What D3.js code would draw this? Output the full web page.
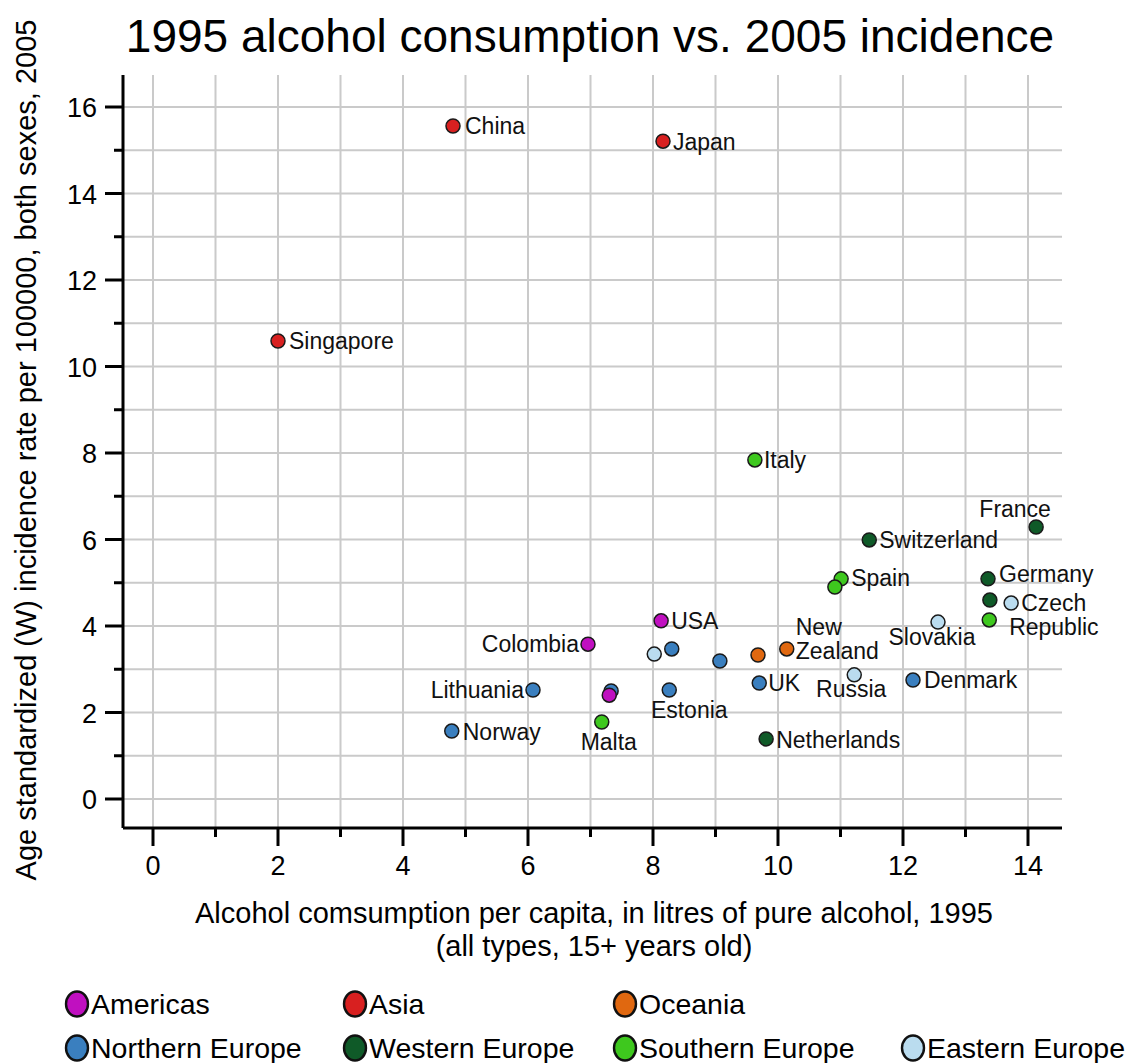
<!DOCTYPE html>
<html><head><meta charset="utf-8">
<script src="https://cdn.jsdelivr.net/npm/d3@7"></script>
<style>body{margin:0;background:#fff}svg{display:block;font-family:"Liberation Sans",Arial,sans-serif}</style>
</head><body><svg id="c" width="1131" height="1063"></svg>
<script>
const countries = ["China","Japan","Singapore","Italy","France","Switzerland","Spain","Spain2","Germany","WEurope2","Czech","SEurope2","Slovakia","USA","Colombia","EEurope2","NEurope2","NEurope3","Oceania2","NewZealand","Russia","Denmark","UK","Lithuania","NEurope4","Americas2","Estonia","Norway","Malta","Netherlands"];
const regions = ["Asia","Asia","Asia","Southern Europe","Western Europe","Western Europe","Southern Europe","Southern Europe","Western Europe","Western Europe","Eastern Europe","Southern Europe","Eastern Europe","Americas","Americas","Eastern Europe","Northern Europe","Northern Europe","Oceania","Oceania","Eastern Europe","Northern Europe","Northern Europe","Northern Europe","Northern Europe","Americas","Northern Europe","Northern Europe","Southern Europe","Western Europe"];
const alcohol = [4.8,8.16,2.0,9.63,14.13,11.46,11.01,10.91,13.36,13.39,13.73,13.38,12.56,8.13,6.96,8.02,8.30,9.07,9.68,10.14,11.22,12.16,9.70,6.08,7.33,7.30,8.26,4.78,7.18,9.81];
const incidence = [15.56,15.21,10.59,7.84,6.29,5.99,5.09,4.90,5.09,4.60,4.53,4.14,4.09,4.12,3.58,3.35,3.47,3.19,3.33,3.47,2.87,2.75,2.68,2.52,2.50,2.40,2.52,1.57,1.78,1.39];
const xTicks = [0,2,4,6,8,10,12,14];
const yTicks = [0,2,4,6,8,10,12,14,16];
const legendRegions = ["Americas","Asia","Oceania","Northern Europe","Western Europe","Southern Europe","Eastern Europe"];
const legendColors = ["#c010c0","#d82020","#e06810","#3a7fbf","#0f5a28","#3ec81e","#badcef"];

// label layout (presentation only)
const labelLayout = {
  "China":{lines:["China"],dx:12,dy:8,a:"start"},
  "Japan":{lines:["Japan"],dx:10,dy:9,a:"start"},
  "Singapore":{lines:["Singapore"],dx:11,dy:8,a:"start"},
  "Italy":{lines:["Italy"],dx:9,dy:8,a:"start"},
  "France":{lines:["France"],dx:-21,dy:-10,a:"middle"},
  "Switzerland":{lines:["Switzerland"],dx:10,dy:8,a:"start"},
  "Spain":{lines:["Spain"],dx:10,dy:7,a:"start"},
  "Germany":{lines:["Germany"],dx:11,dy:3,a:"start"},
  "Czech":{lines:["Czech","Republic"],dx:10,dy:8,a:"start",dx2:-12},
  "Slovakia":{lines:["Slovakia"],dx:-6,dy:23,a:"middle"},
  "USA":{lines:["USA"],dx:10,dy:8,a:"start"},
  "Colombia":{lines:["Colombia"],dx:-9,dy:8,a:"end"},
  "NewZealand":{lines:["New","Zealand"],dx:9,dy:-14,a:"start"},
  "Russia":{lines:["Russia"],dx:-3,dy:22,a:"middle"},
  "Denmark":{lines:["Denmark"],dx:11,dy:8,a:"start"},
  "UK":{lines:["UK"],dx:9,dy:8,a:"start"},
  "Lithuania":{lines:["Lithuania"],dx:-9,dy:8,a:"end"},
  "Estonia":{lines:["Estonia"],dx:20,dy:28,a:"middle"},
  "Norway":{lines:["Norway"],dx:11,dy:9,a:"start"},
  "Malta":{lines:["Malta"],dx:7,dy:28,a:"middle"},
  "Netherlands":{lines:["Netherlands"],dx:10,dy:9,a:"start"}
};

const svg = d3.select("#c");
const x = d3.scaleLinear().domain([0,14]).range([153,1028]);
const y = d3.scaleLinear().domain([0,16]).range([799,107]);
const pLeft = 123, pRight = 1062, pTop = 75, pBottom = 828;
const color = d3.scaleOrdinal().domain(legendRegions).range(legendColors);

// grid
const gridX = d3.range(0,15,1), gridY = d3.range(0,17,1);
svg.append("g").selectAll("line").data(gridX).join("line")
  .attr("x1",d=>x(d)).attr("x2",d=>x(d)).attr("y1",pTop).attr("y2",pBottom)
  .attr("stroke","#cacaca").attr("stroke-width",2);
svg.append("g").selectAll("line").data(gridY).join("line")
  .attr("y1",d=>y(d)).attr("y2",d=>y(d)).attr("x1",pLeft).attr("x2",pRight)
  .attr("stroke","#cacaca").attr("stroke-width",2);

// axes
const gx = svg.append("g").attr("transform",`translate(0,${pBottom})`);
gx.append("line").attr("x1",pLeft).attr("x2",pRight).attr("stroke","#000").attr("stroke-width",3);
gx.selectAll(".t").data(gridX).join("line")
  .attr("x1",d=>x(d)).attr("x2",d=>x(d)).attr("y1",0).attr("y2",d=>xTicks.includes(d)?18:9)
  .attr("stroke","#000").attr("stroke-width",3);
gx.selectAll("text").data(xTicks).join("text")
  .attr("x",d=>x(d)).attr("y",47).attr("text-anchor","middle")
  .attr("font-size",27).text(d3.format("d"));

const gy = svg.append("g").attr("transform",`translate(${pLeft},0)`);
gy.append("line").attr("y1",pTop).attr("y2",pBottom).attr("stroke","#000").attr("stroke-width",3);
gy.selectAll(".t").data(gridY).join("line")
  .attr("y1",d=>y(d)).attr("y2",d=>y(d)).attr("x1",0).attr("x2",d=>yTicks.includes(d)?-18:-9)
  .attr("stroke","#000").attr("stroke-width",3);
gy.selectAll("text").data(yTicks).join("text")
  .attr("x",-26).attr("y",d=>y(d)+10).attr("text-anchor","end")
  .attr("font-size",27).text(d3.format("d"));

// title & labels
svg.append("text").attr("x",590).attr("y",52).attr("text-anchor","middle")
  .attr("font-size",46).text("1995 alcohol consumption vs. 2005 incidence");
svg.append("text").attr("transform","translate(36,450) rotate(-90)").attr("text-anchor","middle")
  .attr("font-size",29).text("Age standardized (W) incidence rate per 100000, both sexes, 2005");
svg.append("text").attr("x",594).attr("y",923).attr("text-anchor","middle")
  .attr("font-size",29).text("Alcohol comsumption per capita, in litres of pure alcohol, 1995");
svg.append("text").attr("x",594).attr("y",956).attr("text-anchor","middle")
  .attr("font-size",29).text("(all types, 15+ years old)");

// points
const data = countries.map((c,i)=>({c,r:regions[i],x:alcohol[i],y:incidence[i]}));
svg.append("g").selectAll("circle").data(data).join("circle")
  .attr("cx",d=>x(d.x)).attr("cy",d=>y(d.y)).attr("r",7)
  .attr("fill",d=>color(d.r)).attr("stroke","#1a1a1a").attr("stroke-width",1.5);

// point labels
const lg = svg.append("g").attr("font-size",23).attr("fill","#111");
data.filter(d=>labelLayout[d.c]).forEach(d=>{
  const L = labelLayout[d.c];
  L.lines.forEach((t,j)=>{
    lg.append("text").attr("x",x(d.x)+L.dx+(j>0&&L.dx2?L.dx2:0)).attr("y",y(d.y)+L.dy+j*24)
      .attr("text-anchor",L.a).text(t);
  });
});

// legend
const legPos = [[77,1004],[355,1004],[625,1004],[77,1048],[355,1048],[625,1048],[913,1048]];
const leg = svg.append("g");
legendRegions.forEach((r,i)=>{
  const [lx,ly] = legPos[i];
  leg.append("ellipse").attr("cx",lx).attr("cy",ly).attr("rx",11).attr("ry",12.5)
    .attr("fill",legendColors[i]).attr("stroke","#111").attr("stroke-width",2.4);
  leg.append("text").attr("x",lx+14).attr("y",ly+10).attr("font-size",28.5).text(r);
});
</script></body></html>
